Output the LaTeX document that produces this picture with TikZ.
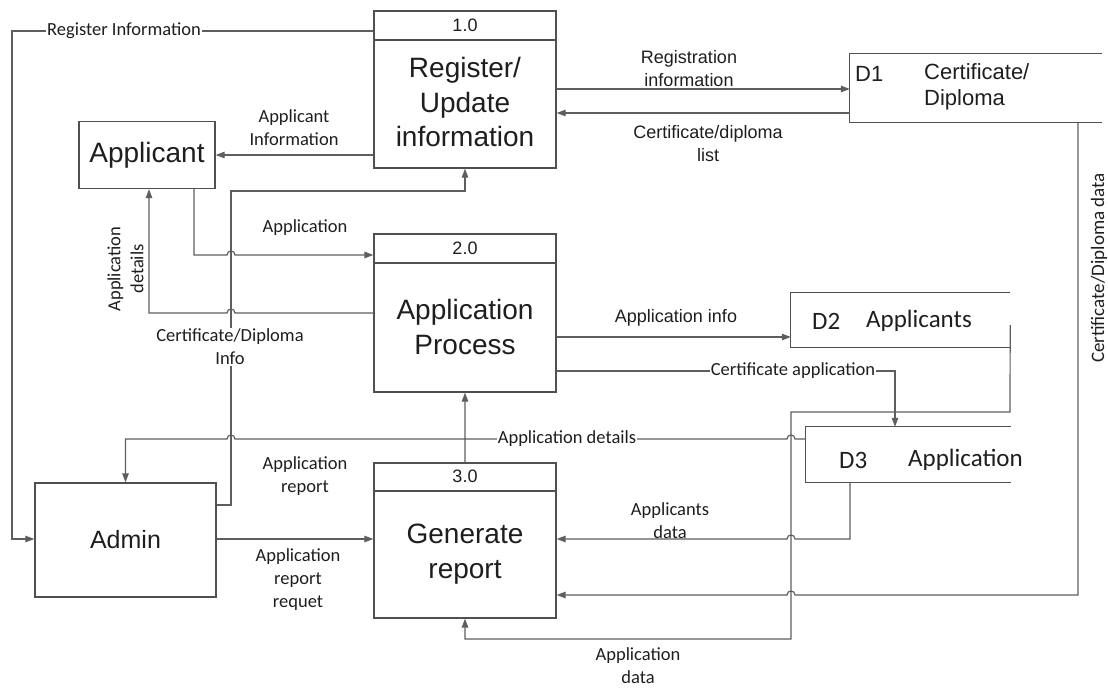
\documentclass[tikz,border=0pt]{standalone}
\usepackage{fontspec}
\setmainfont{Liberation Sans}
\newfontfamily\calfont{Carlito}
\usetikzlibrary{arrows.meta}
\definecolor{ln}{HTML}{5E5E5E}
\definecolor{bx}{HTML}{505050}
\definecolor{tx}{HTML}{1E1E1E}

\begin{document}
\begin{tikzpicture}[x=1pt,y=-1pt,
  proc/.style={draw=bx, line width=1.3pt, minimum width=182pt, inner sep=0pt},
  ent/.style={draw=bx, line width=1.3pt, inner sep=0pt, text=tx},
  store/.style={inner sep=0pt},
  flow/.style={draw=ln, line width=1.2pt, -{Triangle[length=9pt,width=6.5pt]}},
  wall/.style={draw=bx, line width=1.3pt},
  lbl/.style={font=\calfont\fontsize{18.5}{23}\selectfont, text=tx, align=center, inner sep=1pt},
  albl/.style={font=\fontsize{18}{22.5}\selectfont, text=tx, align=center, inner sep=1pt},
  big/.style={font=\fontsize{28}{34.5}\selectfont, text=tx, align=center, inner sep=0pt},
  num/.style={font=\fontsize{18}{22}\selectfont, text=tx, inner sep=0pt},
  sid/.style={font=\fontsize{22}{26}\selectfont, text=tx, inner sep=0pt},
  sidc/.style={font=\calfont\fontsize{25}{29}\selectfont, text=tx, inner sep=0pt},
]
\useasboundingbox (0,0) rectangle (1108,690);

% ---------- processes ----------
\node[proc, minimum height=157pt] (p1) at (465,89.5) {};
\draw[wall] (p1.west |- 0,40) -- (p1.east |- 0,40);
\node[num] (p1n) at (465,25) {1.0};
\node[big] (p1t) at (465,102) {Register/\\Update\\information};

\node[proc, minimum height=158pt] (p2) at (465,313) {};
\draw[wall] (p2.west |- 0,263) -- (p2.east |- 0,263);
\node[num] (p2n) at (465,248) {2.0};
\node[big] (p2t) at (465,327) {Application\\Process};

\node[proc, minimum height=155pt] (p3) at (465,540.5) {};
\draw[wall] (p3.west |- 0,491) -- (p3.east |- 0,491);
\node[num] (p3n) at (465,476) {3.0};
\node[big] (p3t) at (465,554) {Generate\\report};

% ---------- external entities ----------
\node[ent, minimum width=136pt, minimum height=67pt, font=\fontsize{28}{32}\selectfont] (app) at (147,155) {Applicant};
\node[ent, minimum width=181pt, minimum height=114pt, font=\fontsize{25}{30}\selectfont] (adm) at (125.5,540) {Admin};

% ---------- data stores ----------
\node[store, minimum width=252pt, minimum height=69pt] (d1) at (976,88) {};
\draw[wall] (d1.north east) -- (d1.north west) -- (d1.south west) -- (d1.south east);
\node[sid, anchor=west] (d1id) at (855,74) {D1};
\node[sid, anchor=west, align=left] (d1t) at (924,87) {Certificate/\\Diploma};

\node[store, minimum width=219pt, minimum height=54pt] (d2) at (900.5,320) {};
\draw[wall] (d2.north east) -- (d2.north west) -- (d2.south west) -- (d2.south east);
\node[sidc, anchor=west] (d2id) at (812,321) {D2};
\node[sidc, anchor=west] (d2t) at (866,321) {Applicants};

\node[store, minimum width=205pt, minimum height=55pt] (d3) at (908.5,454.5) {};
\draw[wall] (d3.north east) -- (d3.north west) -- (d3.south west) -- (d3.south east);
\node[sidc, anchor=west] (d3id) at (839,460) {D3};
\node[sidc, anchor=west] (d3t) at (908,460) {Application};

% ---------- data flows ----------
% Register information: 1.0 -> Admin
\draw[flow] (p1.west |- 0,31) -- (12,31) -- (12,539) -- (adm.west |- 0,539);
\node[lbl, fill=white] (lreg) at (124,31) {Register Information};

% Applicant information: 1.0 -> Applicant
\draw[flow] (p1.west |- 0,155) -- (app.east);
\node[lbl] (lappi) at (294,128) {Applicant\\Information};

% Registration information: 1.0 -> D1
\draw[flow] (p1.east |- 0,89) -- (d1.west |- 0,89);
\node[albl] (lregi) at (689,68.5) {Registration\\information};

% Certificate/diploma list: D1 -> 1.0
\draw[flow] (d1.west |- 0,113) -- (p1.east |- 0,113);
\node[albl] (lcdl) at (708,143.5) {Certificate/diploma\\list};

% Application: Applicant -> 2.0 (hops over the admin line)
\draw[flow] (app.south -| 194,0) -- (194,255) -- (227,255)
  .. controls (227,249.7) and (235,249.7) .. (235,255) -- (p2.west |- 0,255);
\node[lbl] (lapp) at (305,228) {Application};

% Application details: 2.0 -> Applicant
\draw[flow] (p2.west |- 0,313) -- (235,313)
  .. controls (235,307.7) and (227,307.7) .. (227,313) -- (149,313) -- (app.south -| 149,0);
\node[lbl, rotate=90] (lappd) at (125.5,269) {Application\\details};

% Certificate/Diploma info: Admin -> 1.0
\draw[flow] (adm.east |- 0,505) -- (231,505) -- (231,191) -- (465,191) -- (p1.south);
\node[lbl, fill=white] (lcdi) at (230,347) {Certificate/Diploma\\Info};

% Application info: 2.0 -> D2
\draw[flow] (p2.east |- 0,337) -- (d2.west |- 0,337);
\node[albl] (lai) at (676,318) {Application info};

% Certificate application: 2.0 -> D3
\draw[flow] (p2.east |- 0,371) -- (895,371) -- (d3.north -| 895,0);
\node[lbl, fill=white] (lca) at (793,371) {Certificate application};

% Application details: D3 -> 2.0
\draw[flow] (d3.west |- 0,439) -- (795,439)
  .. controls (795,433.7) and (787,433.7) .. (787,439) -- (465,439) -- (p2.south);
\node[lbl, fill=white] (lad) at (567,439) {Application details};

% Application report: 3.0 -> Admin
\draw[flow] (p3.north) -- (465,439) -- (235,439)
  .. controls (235,433.7) and (227,433.7) .. (227,439) -- (125.5,439) -- (adm.north);
\node[lbl] (lar) at (305,476.5) {Application\\report};

% Application report request: Admin -> 3.0
\draw[flow] (adm.east |- 0,539) -- (p3.west |- 0,539);
\node[lbl] (larr) at (298,580) {Application\\report\\requet};

% Application data: D2 -> 3.0
\draw[flow] (d2.east |- 0,325) -- (1010,412) -- (791,412) -- (791,639) -- (465,639) -- (p3.south);
\node[lbl] (ladata) at (638,666) {Application\\data};

% Applicants data: D3 -> 3.0
\draw[flow] (d3.south -| 850,0) -- (850,539) -- (795,539)
  .. controls (795,533.7) and (787,533.7) .. (787,539) -- (p3.east |- 0,539);
\node[lbl] (lasd) at (670,521) {Applicants\\data};

% Certificate/Diploma data: D1 -> 3.0
\draw[flow] (d1.south -| 1078,0) -- (1078,595) -- (795,595)
  .. controls (795,589.7) and (787,589.7) .. (787,595) -- (p3.east |- 0,595);
\node[lbl, rotate=90, font=\calfont\fontsize{19}{23}\selectfont] (lcdd) at (1099,268) {Certificate/Diploma data};
\end{tikzpicture}
\end{document}
